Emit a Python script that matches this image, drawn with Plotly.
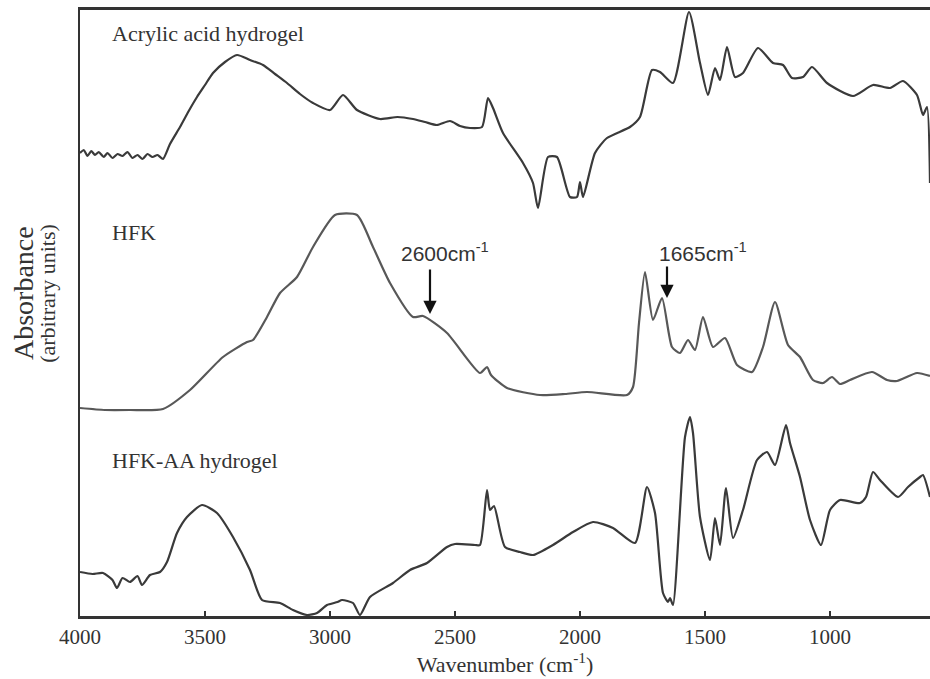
import plotly.graph_objects as go

# ---- Data (wavenumber in cm^-1, absorbance in arbitrary units) ----
aa_wn = [4000, 3985, 3970, 3955, 3940, 3925, 3905, 3890, 3870, 3850, 3830, 3810, 3790, 3770,
         3750, 3730, 3710, 3690, 3668, 3640, 3600, 3565, 3532, 3500, 3468, 3420, 3372, 3320,
         3268, 3220, 3172, 3120, 3068, 3000, 2948, 2892, 2800, 2730, 2668, 2620, 2572, 2520,
         2480, 2440, 2392, 2368, 2348, 2308, 2228, 2188, 2168, 2128, 2092, 2040, 2012, 2000,
         1988, 1940, 1892, 1800, 1760, 1712, 1680, 1628, 1564, 1520, 1488, 1460, 1440, 1412,
         1380, 1348, 1288, 1228, 1188, 1152, 1108, 1072, 1012, 908, 828, 760, 708, 652, 628,
         612, 600]
aa_abs = [463, 466, 460, 465, 461, 464, 459, 463, 458, 462, 460, 464, 458, 461,
          457, 462, 459, 461, 457, 472, 489, 505, 519, 531, 543, 554, 561, 556,
          551, 542, 533, 522, 513, 506, 521, 506, 497, 499, 497, 494, 491, 495,
          490, 488, 489, 518, 508, 483, 453, 433, 408, 459, 459, 419, 419, 434,
          419, 463, 478, 489, 499, 546, 544, 533, 604, 553, 521, 548, 536, 569,
          539, 543, 568, 553, 551, 538, 539, 549, 533, 520, 531, 528, 535, 521, 501,
          509, 433]

hfk_wn = [4000, 3900, 3800, 3668, 3560, 3428, 3332, 3308, 3252, 3200, 3132, 3068, 2980,
          2892, 2828, 2760, 2668, 2628, 2532, 2400, 2372, 2356, 2292, 2160, 2060, 1972,
          1812, 1788, 1764, 1740, 1708, 1672, 1632, 1600, 1568, 1540, 1508, 1468, 1420,
          1372, 1312, 1268, 1220, 1168, 1120, 1068, 1028, 992, 960, 920, 832, 772, 732,
          652, 600]
hfk_abs = [208, 206, 206, 207, 226, 259, 274, 276, 299, 323, 339, 369, 401,
           401, 369, 333, 299, 300, 283, 243, 249, 241, 228, 221, 222, 224,
           221, 229, 293, 344, 296, 318, 269, 263, 276, 266, 299, 269, 278,
           251, 244, 269, 314, 271, 259, 236, 233, 239, 232, 236, 244, 236, 235,
           243, 240]

hfkaa_wn = [4000, 3950, 3908, 3870, 3852, 3830, 3800, 3770, 3752, 3720, 3680, 3652, 3612,
            3572, 3512, 3452, 3388, 3320, 3272, 3200, 3148, 3092, 3052, 3012, 2970, 2952,
            2908, 2880, 2840, 2748, 2680, 2612, 2532, 2500, 2420, 2400, 2372, 2360, 2344,
            2300, 2240, 2188, 2108, 2028, 1948, 1868, 1780, 1732, 1700, 1668, 1648, 1640,
            1628, 1580, 1560, 1548, 1520, 1480, 1460, 1440, 1416, 1388, 1348, 1292, 1252,
            1220, 1176, 1160, 1120, 1080, 1036, 1000, 960, 880, 856, 828, 800, 728, 688,
            640, 628, 600]
hfkaa_abs = [44, 42, 43, 36, 28, 38, 34, 40, 31, 41, 44, 54, 83,
             99, 111, 103, 79, 46, 16, 13, 6, 1, 3, 11, 14, 16,
             13, 1, 19, 33, 46, 53, 69, 72, 71, 71, 126, 106, 110,
             69, 64, 61, 71, 84, 94, 88, 73, 129, 103, 23, 14, 18,
             11, 179, 199, 183, 99, 56, 98, 71, 128, 78, 106, 156, 164,
             151, 191, 173, 139, 96, 71, 106, 116, 113, 119, 144, 136, 119, 129,
             139, 141, 119]

series_names = ["Acrylic acid hydrogel", "HFK", "HFK-AA hydrogel"]
tick_vals = [4000, 3500, 3000, 2500, 2000, 1500, 1000]

fig = go.Figure()
for wn, ab, col in [(aa_wn, aa_abs, "#3a3a3a"), (hfk_wn, hfk_abs, "#585858"),
                    (hfkaa_wn, hfkaa_abs, "#3a3a3a")]:
    fig.add_trace(go.Scatter(x=wn, y=ab, mode="lines",
                             line=dict(color=col, width=2.2, shape="spline", smoothing=0.6),
                             showlegend=False))

serif = "Liberation Serif, Times New Roman, serif"
sans = "Liberation Sans, Arial, sans-serif"

annos = []
label_pos = [(3880, 583), (3880, 384), (3880, 156)]
for name, (lx, ly) in zip(series_names, label_pos):
    annos.append(dict(x=lx, y=ly, xref="x", yref="y", text=name, showarrow=False,
                      xanchor="left", yanchor="middle",
                      font=dict(family=serif, size=22, color="#333333")))

annos.append(dict(x=2540, y=364, xref="x", yref="y", text="2600cm<sup>-1</sup>",
                  showarrow=False, font=dict(family=sans, size=21, color="#333333")))
annos.append(dict(x=1510, y=364, xref="x", yref="y", text="1665cm<sup>-1</sup>",
                  showarrow=False, font=dict(family=sans, size=21, color="#333333")))
annos.append(dict(x=2600, y=302, ax=2600, ay=348, xref="x", yref="y", axref="x", ayref="y",
                  text="", showarrow=True, arrowhead=2, arrowsize=1.2, arrowwidth=2.2,
                  arrowcolor="#111111"))
annos.append(dict(x=1652, y=318, ax=1652, ay=351, xref="x", yref="y", axref="x", ayref="y",
                  text="", showarrow=True, arrowhead=2, arrowsize=1.2, arrowwidth=2.2,
                  arrowcolor="#111111"))

annos.append(dict(x=-0.067, y=0.533, xref="paper", yref="paper", text="Absorbance",
                  textangle=-90, showarrow=False, xanchor="center", yanchor="middle",
                  font=dict(family=serif, size=28, color="#333333")))
annos.append(dict(x=-0.039, y=0.533, xref="paper", yref="paper", text="(arbitrary units)",
                  textangle=-90, showarrow=False, xanchor="center", yanchor="middle",
                  font=dict(family=serif, size=22, color="#333333")))

fig.update_layout(
    width=930, height=679,
    margin=dict(l=80, r=0, t=10, b=63),
    paper_bgcolor="white", plot_bgcolor="white",
    annotations=annos,
    xaxis=dict(range=[4000, 600], tickvals=tick_vals, ticktext=[str(v) for v in tick_vals],
               ticks="inside", ticklen=5, tickwidth=1.5, tickcolor="#333333",
               showline=True, linecolor="#333333", linewidth=2.5, mirror=True,
               showgrid=False, zeroline=False,
               tickfont=dict(family=serif, size=21, color="#333333"),
               title=dict(text="Wavenumber (cm<sup>-1</sup>)", standoff=6,
                          font=dict(family=serif, size=22, color="#333333"))),
    yaxis=dict(range=[0, 606], showticklabels=False, ticks="", showgrid=False,
               zeroline=False, showline=True, linecolor="#333333", linewidth=2),
)

fig.write_html("out.html")
